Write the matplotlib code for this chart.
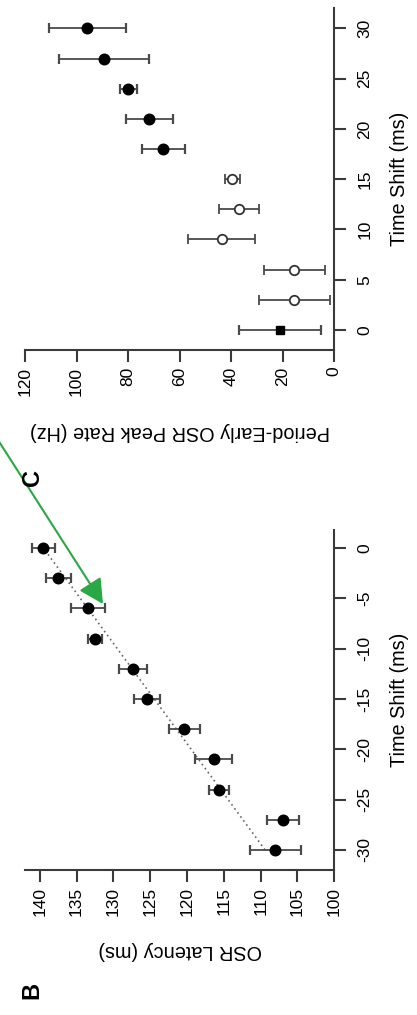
import matplotlib
matplotlib.use("Agg")
import matplotlib.pyplot as plt

plt.rcParams['font.family'] = ['Liberation Sans', 'DejaVu Sans']
plt.rcParams['axes.unicode_minus'] = False

# Panel B: OSR latency vs time shift
b_shift = [0, -3, -6, -9, -12, -15, -18, -21, -24, -27, -30]
b_latency = [139.5, 137.5, 133.5, 132.5, 127.4, 125.4, 120.4, 116.4, 115.6, 107.0, 108.0]
b_err = [1.6, 1.7, 2.3, 0.9, 1.9, 1.75, 2.1, 2.5, 1.35, 2.15, 3.5]
b_fit_shift = [-30, 0]
b_fit_latency = [109.4, 139.5]
b_ticks = [100, 105, 110, 115, 120, 125, 130, 135, 140]
b_shift_ticks = [-30, -25, -20, -15, -10, -5, 0]

# Panel C: period-early OSR peak rate vs time shift
c_ctrl_shift = [0]
c_ctrl_rate = [21.1]
c_ctrl_err = [15.85]
c_open_shift = [3, 6, 9, 12, 15]
c_open_rate = [15.6, 15.6, 43.7, 37.0, 39.6]
c_open_err = [13.8, 11.8, 13.1, 7.7, 2.9]
c_fill_shift = [18, 21, 24, 27, 30]
c_fill_rate = [66.3, 71.8, 79.9, 89.3, 95.8]
c_fill_err = [8.3, 9.2, 3.4, 17.4, 15.05]
c_ticks = [0, 20, 40, 60, 80, 100, 120]
c_shift_ticks = [0, 5, 10, 15, 20, 25, 30]

W, H = 417, 1015
fig = plt.figure(figsize=(W / 100, H / 100), dpi=100)

axc = fig.add_axes([25 / W, 1 - 350 / H, 309.3 / W, 341.7 / H])
axb = fig.add_axes([25 / W, 1 - 870 / H, 309.3 / W, 340 / H])

eb = dict(ecolor='#4a4a4a', elinewidth=1.3, capsize=3.5, capthick=1.6, linestyle='none')

# panel B points + dotted trend line
axb.plot(b_fit_latency, b_fit_shift, linestyle=(0, (1, 2)), color='#666666', lw=1.2, zorder=1)
axb.errorbar(b_latency, b_shift, xerr=b_err, fmt='o', color='black', ms=7.6, **eb)

# panel C: control, open and filled groups
axc.errorbar(c_ctrl_rate, c_ctrl_shift, xerr=c_ctrl_err, fmt='s', color='black', ms=6.2, **eb)
axc.errorbar(c_open_rate, c_open_shift, xerr=c_open_err, fmt='o', mfc='white', mec='#333333',
             mew=1.3, ms=6.8, **eb)
axc.errorbar(c_fill_rate, c_fill_shift, xerr=c_fill_err, fmt='o', color='black', ms=7.6, **eb)

for ax, xlim, ylim, xt, yt, xlab in [
        (axb, (142, 100), (-32, 1.8), b_ticks, b_shift_ticks, 'OSR Latency (ms)'),
        (axc, (120, 0), (-2, 32), c_ticks, c_shift_ticks, 'Period-Early OSR Peak Rate (Hz)')]:
    ax.set_xlim(*xlim)
    ax.set_ylim(*ylim)
    ax.set_xticks(xt)
    ax.set_yticks(yt)
    for s in ['top', 'left']:
        ax.spines[s].set_visible(False)
    for s in ['bottom', 'right']:
        ax.spines[s].set_linewidth(1.5)
        ax.spines[s].set_color('#3a3a3a')
    ax.yaxis.tick_right()
    ax.tick_params(axis='both', direction='out', length=8.5, width=1.5, color='#3a3a3a',
                   labelsize=12.5, labelrotation=90)
    ax.tick_params(axis='x', pad=3.5)
    ax.tick_params(axis='y', pad=8)
    plt.setp(ax.get_yticklabels(), va='center')
    ax.set_xlabel(xlab, fontsize=14.3, rotation=180, va='center')
    ax.xaxis.set_label_coords(0.5, -0.238)
    ax.yaxis.set_label_position('right')
    ax.set_ylabel('Time Shift (ms)', fontsize=14.3, rotation=90, va='center')
    ax.yaxis.set_label_coords(1.212, 0.5)
    ax.patch.set_alpha(0)

fig.text(32 / W, 1 - 478 / H, 'C', rotation=90, fontsize=17, fontweight='bold',
         ha='center', va='center')
fig.text(32 / W, 1 - 990 / H, 'B', rotation=90, fontsize=17, fontweight='bold',
         ha='center', va='center')

# green pointer onto the -6 ms latency point
fig.add_artist(matplotlib.patches.FancyArrowPatch(
    (-2 / W, 1 - 440 / H), (103 / W, 1 - 604 / H), transform=fig.transFigure,
    arrowstyle='-|>,head_length=1.0,head_width=0.52', mutation_scale=15,
    color='#2aa845', lw=1.5, shrinkA=0, shrinkB=0))

fig.savefig('out.png', dpi=100)
